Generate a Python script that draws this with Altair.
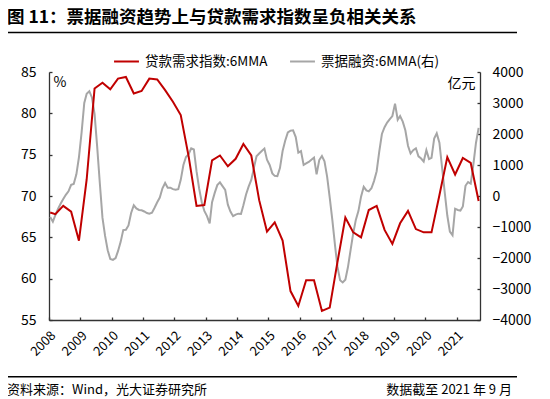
import altair as alt
import pandas as pd

RED = "#C00000"
GRAY = "#A6A6A6"
AX = "#333333"
FONT = "Noto Sans CJK SC"

title_text = "图 11：票据融资趋势上与贷款需求指数呈负相关关系"
source_text = "资料来源：Wind，光大证券研究所"
cutoff_text = "数据截至 2021 年 9 月"
loan_name = "贷款需求指数:6MMA"
bill_name = "票据融资:6MMA(右)"
left_unit = "%"
right_unit = "亿元"

# loan demand index (quarterly readings)
loan_months = ["2008-01", "2008-03", "2008-06", "2008-09", "2008-12",
               "2009-03", "2009-06", "2009-09", "2009-12",
               "2010-03", "2010-06", "2010-09", "2010-12",
               "2011-03", "2011-06", "2011-09", "2011-12",
               "2012-03", "2012-06", "2012-09", "2012-12",
               "2013-03", "2013-06", "2013-09", "2013-12",
               "2014-03", "2014-06", "2014-09", "2014-12",
               "2015-03", "2015-06", "2015-09", "2015-12",
               "2016-03", "2016-06", "2016-09", "2016-12",
               "2017-03", "2017-06", "2017-09", "2017-12",
               "2018-03", "2018-06", "2018-09", "2018-12",
               "2019-03", "2019-06", "2019-09", "2019-12",
               "2020-03", "2020-06", "2020-09", "2020-12",
               "2021-03", "2021-06", "2021-09"]
loan_values = [68.0, 67.8, 68.8, 68.1, 64.6,
               72.0, 83.0, 83.7, 82.9,
               84.2, 84.4, 82.4, 82.7,
               84.2, 84.1, 82.8, 81.4,
               79.8, 74.8, 68.8, 68.9,
               74.3, 74.9, 73.6, 74.5,
               76.3, 74.9, 69.5, 65.7,
               66.8, 64.6, 58.5, 56.7,
               59.8, 59.8, 56.1, 56.5,
               62.0, 67.4, 65.6, 65.0,
               68.3, 68.8, 65.9, 64.2,
               66.7, 68.2, 66.0, 65.6,
               65.6, 70.1, 74.7, 72.6,
               74.6, 74.0, 69.4]

# bill financing 6MMA, monthly, 100 million yuan
bill_2008 = [-680, -830, -620, -420, -250, -100, 40, 150, 360, 390, 700, 1250]
bill_2009 = [2050, 3000, 3300, 3380, 3180, 2650, 1600, 420, -700, -1280, -1750, -2030]
bill_2010 = [-2060, -2000, -1780, -1480, -1100, -1090, -950, -550, -300, -400, -450, -460]
bill_2011 = [-500, -550, -570, -540, -380, -200, -50, 250, 420, 270, 270, 220]
bill_2012 = [200, 220, 520, 1000, 1260, 1350, 1540, 1500, 800, 250, -200, -480]
bill_2013 = [-650, -880, -200, 100, 350, 440, 320, 200, -280, -500, -650, -600]
bill_2014 = [-570, -580, -300, 50, 300, 520, 900, 1280, 1370, 1450, 1530, 1170]
bill_2015 = [1000, 730, 650, 640, 900, 1450, 1780, 2050, 2110, 2120, 1900, 1400]
bill_2016 = [1450, 1000, 1050, 1100, 1170, 1240, 700, 1160, 1290, 1120, 620, -50]
bill_2017 = [-790, -1600, -2280, -2720, -2790, -2700, -2300, -1745, -1200, -770, -480, -20]
bill_2018 = [300, 180, 150, 250, 480, 800, 1430, 2000, 2220, 2370, 2480, 2580]
bill_2019 = [2980, 2460, 2580, 2400, 2120, 1620, 1370, 1480, 1540, 1280, 1210, 1110]
bill_2020 = [1480, 1190, 1230, 1850, 2020, 1720, 950, 140, -630, -1150, -1270, -410]
bill_2021 = [-450, -470, -340, 330, 450, 400, 1000, 1710, 2200]

year_ticks = list(range(2008, 2022))
left_ticks = [55, 60, 65, 70, 75, 80, 85]
right_ticks = [-4000, -3000, -2000, -1000, 0, 1000, 2000, 3000, 4000]

bill_values = (bill_2008 + bill_2009 + bill_2010 + bill_2011 + bill_2012 + bill_2013 +
               bill_2014 + bill_2015 + bill_2016 + bill_2017 + bill_2018 + bill_2019 +
               bill_2020 + bill_2021)
bill_dates = (pd.date_range("2008-01-01", periods=len(bill_values), freq="MS")
              + pd.Timedelta(days=14)).strftime("%Y-%m-%d")

loan_df = pd.DataFrame({"date": [m + "-15" for m in loan_months],
                        "value": loan_values, "series": loan_name})
bill_df = pd.DataFrame({"date": list(bill_dates), "value": bill_values,
                        "series": bill_name})

W, H = 431, 248

xdom = [alt.DateTime(year=2008, month=1, date=1), alt.DateTime(year=2021, month=10, date=1)]
xvals = [alt.DateTime(year=y, month=1, date=1) for y in year_ticks]
xscale = alt.Scale(domain=xdom)

color = alt.Color("series:N",
                  scale=alt.Scale(domain=[loan_name, bill_name], range=[RED, GRAY]),
                  legend=alt.Legend(orient="none", legendX=64, legendY=-24,
                                    direction="horizontal", title=None,
                                    symbolType="stroke", symbolSize=620,
                                    symbolStrokeWidth=2, labelFontSize=13.5,
                                    labelFont=FONT, labelColor="black",
                                    labelOffset=5, columnPadding=18))

lscale = alt.Scale(domain=[55, 85], nice=False, zero=False)
rscale = alt.Scale(domain=[-4000, 4000], nice=False, zero=False)

gray = alt.Chart(bill_df).mark_line(strokeWidth=2).encode(
    x=alt.X("date:T", scale=xscale,
            axis=alt.Axis(orient="bottom", values=xvals, format="%Y", title=None,
                          labelAngle=-45, labelAlign="right", labelBaseline="middle",
                          labelPadding=13, labelOffset=4, ticks=False, tickSize=0,
                          domain=True, domainColor=AX, domainWidth=1.3,
                          labelFontSize=13, grid=False)),
    y=alt.Y("value:Q", scale=rscale,
            axis=alt.Axis(orient="right", values=right_ticks, format="d",
                          title=right_unit,
                          titleAngle=0, titleX=-5, titleY=11, titleAlign="right",
                          titleBaseline="middle", titleFontSize=14, titleFontWeight="normal",
                          labelAlign="left", labelPadding=12, ticks=False, tickSize=0,
                          domainColor=AX, domainWidth=1.3, labelFontSize=14, grid=False)),
    color=color,
)

red = alt.Chart(loan_df).mark_line(strokeWidth=2).encode(
    x=alt.X("date:T", scale=xscale,
            axis=alt.Axis(orient="top", offset=-H, values=xvals, labels=False,
                          domain=False, ticks=True, tickSize=3, tickColor=AX,
                          tickWidth=1.3, title=None, grid=False)),
    y=alt.Y("value:Q", scale=lscale,
            axis=alt.Axis(orient="left", values=left_ticks, title=left_unit,
                          titleAngle=0, titleX=4, titleY=10, titleAlign="left",
                          titleBaseline="middle", titleFontSize=14, titleFontWeight="normal",
                          labelPadding=13, ticks=False, tickSize=0,
                          domainColor=AX, domainWidth=1.3, labelFontSize=14, grid=False)),
    color=color,
)

red_ticks = alt.Chart(loan_df).mark_line(opacity=0).encode(
    x=alt.X("date:T", scale=xscale, axis=None),
    y=alt.Y("value:Q", scale=lscale,
            axis=alt.Axis(orient="right", offset=-W, values=left_ticks, labels=False,
                          domain=False, ticks=True, tickSize=3, tickColor=AX,
                          tickWidth=1.3, title=None, grid=False)),
)

gray_ticks = alt.Chart(bill_df).mark_line(opacity=0).encode(
    x=alt.X("date:T", scale=xscale, axis=None),
    y=alt.Y("value:Q", scale=rscale,
            axis=alt.Axis(orient="left", offset=-W, values=right_ticks, labels=False,
                          domain=False, ticks=True, tickSize=3, tickColor=AX,
                          tickWidth=1.3, title=None, grid=False)),
)

one = pd.DataFrame({"t": [title_text], "s": [source_text], "c": [cutoff_text]})

title = alt.Chart(one).mark_text(align="left", baseline="middle", fontSize=17.5,
                                 fontWeight="bold", font=FONT, color="black").encode(
    text="t:N", x=alt.value(-42), y=alt.value(-54.5))
source = alt.Chart(one).mark_text(align="left", baseline="middle", fontSize=13,
                                  font=FONT, color="black").encode(
    text="s:N", x=alt.value(-42), y=alt.value(318))
cutoff = alt.Chart(one).mark_text(align="right", baseline="middle", fontSize=13,
                                  font=FONT, color="black").encode(
    text="c:N", x=alt.value(463), y=alt.value(318))
top_rule = alt.Chart(one).mark_rule(color="black", strokeWidth=1.5).encode(
    x=alt.value(-42), x2=alt.value(468), y=alt.value(-39.5))
bottom_rule = alt.Chart(one).mark_rule(color="black", strokeWidth=1.5).encode(
    x=alt.value(-42), x2=alt.value(468), y=alt.value(304.7))

chart = alt.layer(gray, red, red_ticks, gray_ticks, title, source, cutoff,
                  top_rule, bottom_rule).resolve_scale(
    y="independent"
).resolve_axis(
    x="independent", y="independent"
).properties(
    width=W, height=H,
    autosize=alt.AutoSizeParams(type="none"),
    padding={"left": 41, "top": 64, "right": 62, "bottom": 77},
).configure_view(stroke=None).configure_axis(
    labelFont=FONT, titleFont=FONT, labelColor="black", titleColor="black"
)

chart.save("out.html", embed_options={"renderer": "svg", "actions": False})
